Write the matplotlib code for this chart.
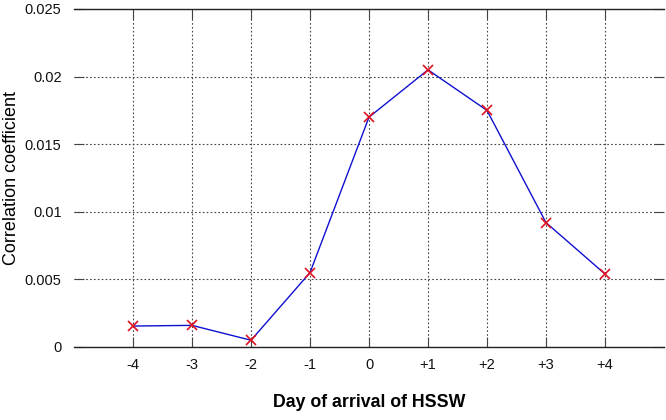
import matplotlib
matplotlib.use("Agg")
import matplotlib.pyplot as plt

days = [-4, -3, -2, -1, 0, 1, 2, 3, 4]
day_labels = ["-4", "-3", "-2", "-1", "0", "+1", "+2", "+3", "+4"]
corr = [0.00155, 0.0016, 0.0005, 0.0055, 0.0170, 0.0205, 0.0175, 0.0092, 0.0054]
yticks = [0, 0.005, 0.01, 0.015, 0.02, 0.025]
ytick_labels = ["0", "0.005", "0.01", "0.015", "0.02", "0.025"]

plt.rcParams['font.family'] = ['Liberation Sans', 'DejaVu Sans']

fig = plt.figure(figsize=(6.66, 4.2), dpi=100)
ax = fig.add_axes([74/666, 1-347/420, 590/666, 338/420])

ax.plot(days, corr, color='#1010d0', linewidth=1.0, zorder=3)
ax.plot(days, corr, linestyle='none', marker='x', color='#e01020',
        markersize=7, markeredgewidth=1.2, zorder=4)

ax.set_xlim(-5, 5)
ax.set_ylim(0, 0.025)
ax.set_xticks(days)
ax.set_xticklabels(day_labels)
ax.set_yticks(yticks)
ax.set_yticklabels(ytick_labels)

ax.grid(True, linestyle=(0, (1.5, 2)), color='#444444', linewidth=0.8)
ax.set_axisbelow(True)

for s in ['left', 'right']:
    ax.spines[s].set_visible(False)
for s in ['top', 'bottom']:
    ax.spines[s].set_color('#222222')
    ax.spines[s].set_linewidth(1.0)

ax.tick_params(axis='both', direction='in', length=7, width=0.8,
               color='#444444', labelsize=10.5, labelcolor='#111111',
               top=True, right=True)
ax.tick_params(axis='y', pad=9)
ax.tick_params(axis='x', pad=8)

ax.set_xlabel("Day of arrival of HSSW", fontsize=12.8, fontweight='bold', labelpad=16)
ax.set_ylabel("Correlation coefficient", fontsize=13, labelpad=0)
ax.yaxis.set_label_coords(-0.092, 0.5)

fig.savefig("out.png", dpi=100)
